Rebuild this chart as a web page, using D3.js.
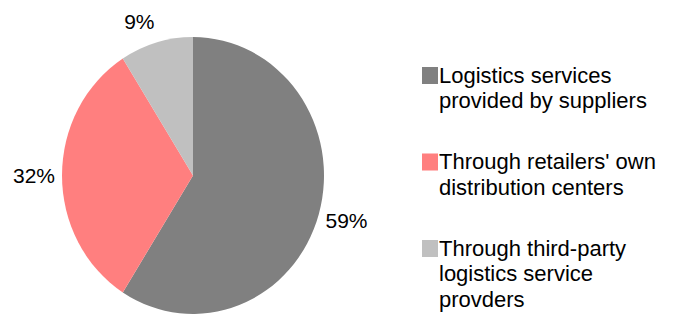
<!DOCTYPE html>
<html>
<head>
<meta charset="utf-8">
<script src="https://cdn.jsdelivr.net/npm/d3@7"></script>
<style>
  body { margin: 0; background: #fff; }
  text { font-family: "Liberation Sans", Arial, sans-serif; fill: #000; }
</style>
</head>
<body>
<svg width="676" height="328"></svg>
<script>
// chart data
const categories = [
  ['Logistics services', 'provided by suppliers'],
  ["Through retailers' own", 'distribution centers'],
  ['Through third-party', 'logistics service', 'provders']
]
const values = [59, 32, 9]
const colors = ['#808080', '#ff7f7f', '#c0c0c0']

const svg = d3.select('svg')

const rx = 131
const ry = 138.5
const cx = 193
const cy = 175.5

const pie = d3.pie().sort(null).value(d => d)
const arcs = pie(values)

const arc = d3.arc().innerRadius(0).outerRadius(rx)
const labelArc = d3.arc().innerRadius(138).outerRadius(138)

const g = svg.append('g')
  .attr('transform', `translate(${cx}, ${cy}) scale(1, ${ry / rx})`)

g.selectAll('path')
  .data(arcs)
  .enter()
  .append('path')
  .attr('d', arc)
  .attr('fill', (d, i) => colors[i])

// percent labels, placed just outside the rim like office charts do
const mid = d => (d.startAngle + d.endAngle) / 2

svg.append('g')
  .attr('class', 'labels')
  .selectAll('text')
  .data(arcs)
  .enter()
  .append('text')
  .attr('x', d => cx + labelArc.centroid(d)[0])
  .attr('y', d => cy + labelArc.centroid(d)[1] * ry / rx)
  .attr('dy', d => (0.35 - Math.cos(mid(d)) * 0.7) + 'em')
  .attr('text-anchor', d => Math.sin(mid(d)) >= 0 ? 'start' : 'end')
  .style('font-size', '21px')
  .text(d => d.data + '%')

// legend
const legend = svg.append('g')
  .attr('class', 'legend')
  .selectAll('g')
  .data(categories)
  .enter()
  .append('g')
  .attr('transform', (d, i) => `translate(422, ${67 + i * 86.5})`)

legend.append('rect')
  .attr('width', 16)
  .attr('height', 17)
  .attr('fill', (d, i) => colors[i])

legend.append('text')
  .attr('x', 17)
  .attr('y', 15.5)
  .style('font-size', '22px')
  .selectAll('tspan')
  .data(d => d)
  .enter()
  .append('tspan')
  .attr('x', 17)
  .attr('dy', (d, i) => i === 0 ? 0 : 25.5)
  .text(d => d)
</script>
</body>
</html>
